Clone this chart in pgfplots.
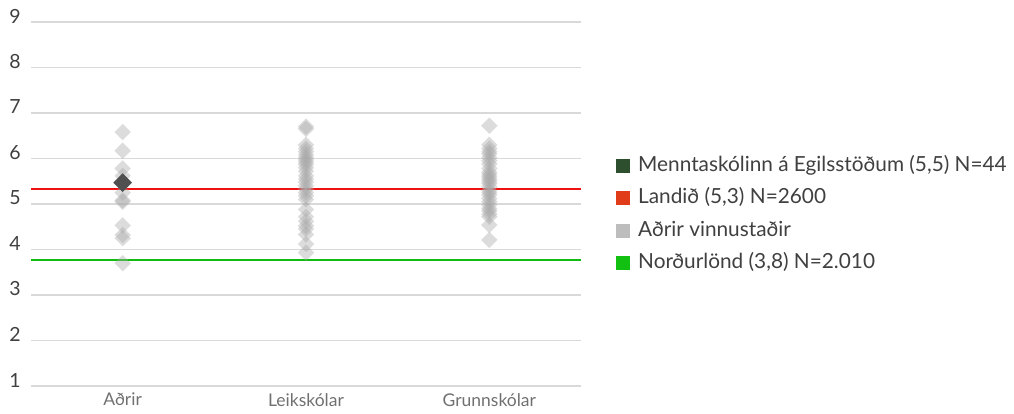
\documentclass[border=0pt]{standalone}
\usepackage{fontspec}
\setmainfont{Lato}
\usepackage{pgfplots}
\pgfplotsset{compat=1.18}
\definecolor{gridc}{HTML}{D9D9D9}
\definecolor{ticky}{HTML}{404040}
\definecolor{tickx}{HTML}{707070}
\definecolor{mdark}{HTML}{2D4F2D}
\definecolor{mdiam}{HTML}{505050}
\definecolor{lred}{HTML}{EE1111}
\definecolor{lredleg}{HTML}{E03C1A}
\definecolor{lgray}{HTML}{BDBDBD}
\definecolor{lgreen}{HTML}{11BB11}
\definecolor{lgreenleg}{HTML}{11C011}
\definecolor{dgray}{HTML}{A8A8A8}
\begin{document}
\begin{tikzpicture}
\begin{axis}[
  scale only axis, width=550pt, height=364pt,
  at={(0pt,0pt)}, anchor=south west,
  xmin=-0.5, xmax=2.5, ymin=1, ymax=9,
  xtick={0,1,2}, xticklabels={Aðrir,Leikskólar,Grunnskólar},
  ytick={1,2,3,4,5,6,7,8,9},
  axis line style={draw=none},
  tick style={draw=none},
  ymajorgrids, grid style={draw=gridc, line width=1.5pt},
  /pgf/number format/assume math mode=true,
  yticklabel style={font=\fontsize{19.5}{22}\selectfont, text=ticky, anchor=east, inner sep=0pt, xshift=-10pt, yshift=6pt},
  xticklabel style={font=\fontsize{17.5}{20}\selectfont, text=tickx, anchor=north, inner sep=0pt, yshift=-7pt},
  clip=false,
  legend image code/.code={\path[#1, draw=none] (0pt,-7pt) rectangle (14pt,7pt);},
  legend cell align=left,
  legend style={draw=none, fill=none, at={(axis description cs:1.0582,0.637)}, anchor=north west,
    font=\fontsize{20.8}{24}\selectfont, text=ticky,
    nodes={inner sep=0pt, text height=15pt, text depth=4pt},
    row sep=13.5pt,
    /tikz/every odd column/.append style={column sep=8pt}},
]
\addlegendimage{fill=mdark}
\addlegendentry{Menntaskólinn á Egilsstöðum (5,5) N=44}
\addlegendimage{fill=lredleg}
\addlegendentry{Landið (5,3) N=2600}
\addlegendimage{fill=lgray}
\addlegendentry{Aðrir vinnustaðir}
\addlegendimage{fill=lgreenleg}
\addlegendentry{Norðurlönd (3,8) N=2.010}

\addplot[forget plot, lred, line width=2pt] coordinates {(-0.5,5.33) (2.5,5.33)};
\addplot[forget plot, lgreen, line width=2pt] coordinates {(-0.5,3.77) (2.5,3.77)};

\addplot[forget plot, dgray, only marks, mark=square*, mark size=5.8pt,
  mark options={rotate=45, draw opacity=0, fill=dgray, fill opacity=0.4}]
coordinates {
(0,6.58) (0,6.17) (0,5.78) (0,5.62) (0,5.25) (0,5.08) (0,5.05) (0,4.53) (0,4.32) (0,4.25) (0,3.70)
(1,6.70) (1,6.65) (1,6.30) (1,6.22) (1,6.15) (1,6.08) (1,6.02) (1,5.97) (1,5.92) (1,5.87) (1,5.80) (1,5.72)
(1,5.62) (1,5.55) (1,5.48) (1,5.40) (1,5.33) (1,5.25) (1,5.18) (1,5.10) (1,4.88) (1,4.72) (1,4.62) (1,4.52)
(1,4.45) (1,4.33) (1,4.12) (1,3.93)
(2,6.72) (2,6.30) (2,6.22) (2,6.15) (2,6.10) (2,6.02) (2,5.95) (2,5.88) (2,5.78) (2,5.70) (2,5.65) (2,5.60)
(2,5.55) (2,5.50) (2,5.45) (2,5.38) (2,5.30) (2,5.25) (2,5.20) (2,5.12) (2,5.05) (2,4.98) (2,4.90) (2,4.85)
(2,4.78) (2,4.72) (2,4.54) (2,4.21)
};
\addplot[forget plot, mdiam, only marks, mark=square*, mark size=6.6pt,
  mark options={rotate=45, draw opacity=0, fill=mdiam}]
coordinates {(0,5.47)};
\end{axis}
\pgfresetboundingbox
\path (-31pt,-27pt) rectangle (983pt,386pt);
\end{tikzpicture}
\end{document}
